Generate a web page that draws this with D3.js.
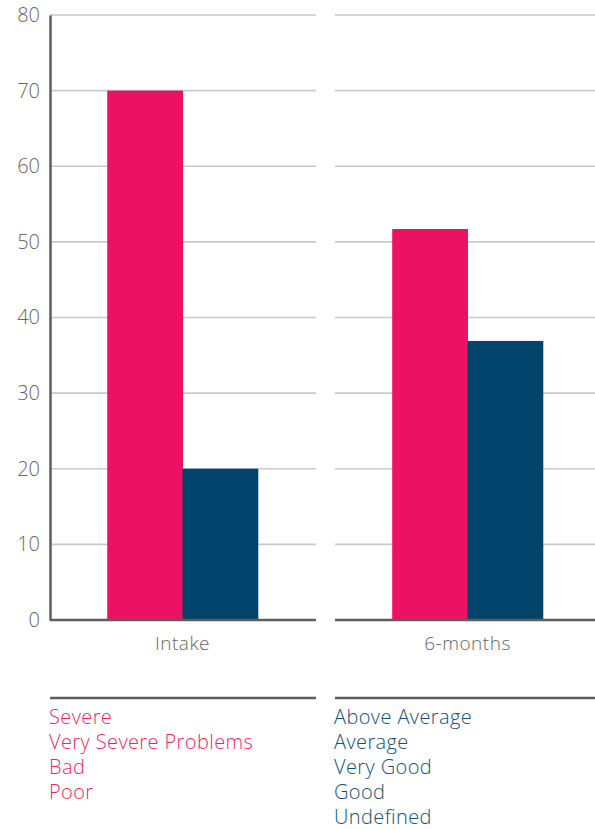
<!DOCTYPE html>
<html>
<head>
<meta charset="utf-8">
<script src="https://cdn.jsdelivr.net/npm/d3@7"></script>
<style>
  body { margin: 0; background: #fff; }
  svg text { font-family: "Open Sans", Roboto, sans-serif; font-weight: 300; }
</style>
</head>
<body>
<svg id="chart" width="595" height="829"></svg>
<script>
const periods = ["Intake", "6-months"]
const series = ["problems", "good"]
const problemValues = [70, 51.7]
const goodValues = [20, 36.9]
const yTicks = [0, 10, 20, 30, 40, 50, 60, 70, 80]
const problemLabels = ["Severe", "Very Severe Problems", "Bad", "Poor"]
const goodLabels = ["Above Average", "Average", "Very Good", "Good", "Undefined"]

const colors = { problems: "#ed1164", good: "#00446b" }
const legendColors = { problems: "#ef1f6a", good: "#1a4e74" }

const svg = d3.select("#chart")
const margin = { top: 15, left: 50 }
const baseY = 620

const x0 = d3.scaleBand()
    .domain(periods)
    .range([margin.left, 600])
    .paddingInner(20 / 285)

const x1 = d3.scaleBand()
    .domain(series)
    .range([0, x0.bandwidth()])
    .paddingOuter(0.76)

const y = d3.scaleLinear()
    .domain([0, 80])
    .range([baseY, margin.top])

const data = periods.map((p, i) => ({
    period: p,
    values: [
        { key: "problems", value: problemValues[i] },
        { key: "good", value: goodValues[i] },
    ]
}))

// gridlines per panel
const panels = svg.selectAll(".panel").data(data).enter().append("g")
    .attr("class", "panel")
    .attr("transform", d => "translate(" + x0(d.period) + ",0)")

panels.selectAll(".grid").data(yTicks.filter(t => t > 0)).enter().append("line")
    .attr("x1", 0)
    .attr("x2", x0.bandwidth() + 1)
    .attr("y1", d => y(d))
    .attr("y2", d => y(d))
    .attr("stroke", "#c9c9cb")
    .attr("stroke-width", 1.6)

panels.selectAll(".bar").data(d => d.values).enter().append("rect")
    .attr("x", d => x1(d.key))
    .attr("y", d => y(d.value))
    .attr("width", x1.bandwidth() + 0.5)
    .attr("height", d => y(0) - y(d.value))
    .attr("fill", d => colors[d.key])

panels.append("line")
    .attr("x1", 0)
    .attr("x2", x0.bandwidth() + 1)
    .attr("y1", baseY)
    .attr("y2", baseY)
    .attr("stroke", "#5d5d5d")
    .attr("stroke-width", 2.5)

panels.append("text")
    .attr("x", x0.bandwidth() / 2)
    .attr("y", 650)
    .attr("text-anchor", "middle")
    .attr("fill", "#666")
    .style("font-size", "19px")
    .style("letter-spacing", "0.5px")
    .text(d => d.period)

// y axis
const yAxis = svg.append("g")
    .attr("transform", "translate(" + margin.left + ",0)")
    .call(d3.axisLeft(y).tickValues(yTicks).tickSize(0).tickPadding(10))

yAxis.select(".domain")
    .attr("stroke", "#5d5d5d")
    .attr("stroke-width", 2.5)

yAxis.selectAll("text")
    .attr("fill", "#666")
    .style("font-size", "20px")
    .style("font-family", "\"Open Sans\", Roboto, sans-serif")

// legend
const legendGroups = [
    { key: "problems", labels: problemLabels },
    { key: "good", labels: goodLabels },
]

const legend = svg.selectAll(".legend").data(legendGroups).enter().append("g")
    .attr("class", "legend")
    .attr("transform", (d, i) => "translate(" + x0(periods[i]) + ",0)")

legend.append("line")
    .attr("x1", 0)
    .attr("x2", x0.bandwidth() + 1)
    .attr("y1", 698)
    .attr("y2", 698)
    .attr("stroke", "#5d5d5d")
    .attr("stroke-width", 2.5)

legend.selectAll("text").data(d => d.labels.map(l => ({ key: d.key, label: l }))).enter().append("text")
    .attr("x", -1)
    .attr("y", (d, i) => 723.5 + i * 25.1)
    .attr("fill", d => legendColors[d.key])
    .style("font-size", "20px")
    .style("letter-spacing", "0.4px")
    .text(d => d.label)
</script>
</body>
</html>
